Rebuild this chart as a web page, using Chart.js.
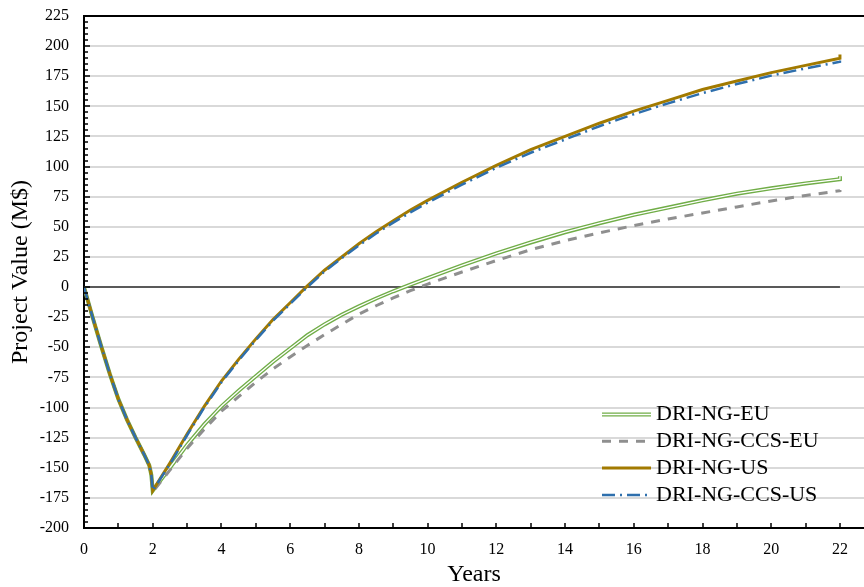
<!DOCTYPE html>
<html>
<head>
<meta charset="utf-8">
<script src="https://cdn.jsdelivr.net/npm/chart.js@4/dist/chart.umd.min.js"></script>
<style>
  body { margin: 0; background: #fff; }
</style>
</head>
<body>
<canvas id="npv-chart" width="864" height="587"></canvas>
<script>
// project value over time, four plant cases
var years = [0, 0.25, 0.5, 0.75, 1, 1.25, 1.5, 1.75, 1.9, 1.96, 2,
  2.5, 3, 3.5, 4, 4.5, 5, 5.5, 6, 6.5, 7, 7.5, 8, 8.5, 9, 9.5, 10,
  11, 12, 13, 14, 15, 16, 17, 18, 19, 20, 21, 22, 22];

var ngEU = [0, -25, -49, -72, -93, -110, -125, -139, -148, -156, -169,
  -150, -131, -114, -99, -86, -74, -62, -51, -40, -31, -23, -16, -9.5, -3.5, 2, 7.5,
  18, 28, 37, 45.5, 53, 60, 66, 72, 77.5, 82, 86, 89.5, 92];

var ngCcsEU = [0, -25, -49, -72, -93, -110, -125, -139, -148, -156, -170,
  -152, -134, -118, -103, -91, -79, -68, -58, -48.5, -39.5, -31, -22.5, -15.5, -9, -3, 2.5,
  12.5, 22, 31, 38.5, 45, 51, 56.5, 61.5, 66.5, 71.5, 76, 80, 80.5];

var ngUS = [0, -25, -49, -72, -93, -110, -125, -139, -148, -156, -169,
  -146, -122, -99, -78, -60, -43, -27, -13, 1, 14, 25, 36, 46, 55, 64, 72,
  87, 101, 114, 125, 136, 146, 155, 164, 171, 178, 184, 190, 193];

var ngCcsUS = [0, -25, -49, -72, -93, -110, -125, -139, -148, -156, -169,
  -147, -123, -100, -79, -61, -44, -28, -14, 0, 13, 24, 34.5, 44.5, 53.5, 62, 70,
  85, 99, 111.5, 122.5, 133.5, 143.5, 152.5, 161, 168.5, 175.5, 181.5, 187, 188];

var zeroYears = [0, 22];
var zeroVals = [0, 0];

var xTickStep = 2;
var yTickStep = 25;

var serif = '"Liberation Serif", "Times New Roman", serif';

function pts(xs, vals) {
  return vals.map(function(v, i) { return { x: xs[i], y: v }; });
}

// small tick marks pointing into the plot
var insideTicks = {
  id: 'insideTicks',
  afterDraw: function(chart) {
    var ctx = chart.ctx, xs = chart.scales.x, ys = chart.scales.y, area = chart.chartArea;
    ctx.save();
    ctx.strokeStyle = '#000';
    ctx.lineWidth = 1.5;
    ctx.beginPath();
    for (var yr = 1; yr <= 22; yr++) {
      var px = Math.round(xs.getPixelForValue(yr));
      ctx.moveTo(px, area.bottom);
      ctx.lineTo(px, area.bottom - 5);
    }
    for (var v = -195; v < 225; v += 5) {
      var py = Math.round(ys.getPixelForValue(v));
      ctx.moveTo(area.left, py);
      ctx.lineTo(area.left + (v % 25 === 0 ? 6 : 4), py);
    }
    ctx.stroke();
    ctx.restore();
  }
};

// legend with line samples, the EU case drawn as a double line
var lineLegend = {
  id: 'lineLegend',
  afterDraw: function(chart) {
    var ctx = chart.ctx;
    var entries = [
      { text: 'DRI-NG-EU', ds: 4, inner: 3 },
      { text: 'DRI-NG-CCS-EU', ds: 2 },
      { text: 'DRI-NG-US', ds: 1 },
      { text: 'DRI-NG-CCS-US', ds: 0 }
    ];
    ctx.save();
    ctx.font = '22px ' + serif;
    ctx.textBaseline = 'middle';
    ctx.fillStyle = '#000';
    entries.forEach(function(e, i) {
      var y = 414.5 + i * 26.8;
      [e.ds, e.inner].forEach(function(k) {
        if (k === undefined) return;
        var d = chart.data.datasets[k];
        ctx.beginPath();
        ctx.strokeStyle = d.borderColor;
        ctx.lineWidth = d.borderWidth;
        ctx.setLineDash(d.borderDash || []);
        ctx.moveTo(602, y);
        ctx.lineTo(651, y);
        ctx.stroke();
      });
      ctx.setLineDash([]);
      ctx.fillText(e.text, 656, y);
    });
    ctx.restore();
  }
};

new Chart(document.getElementById('npv-chart'), {
  type: 'line',
  data: {
    datasets: [{
      label: 'DRI-NG-CCS-US',
      data: pts(years, ngCcsUS),
      borderColor: '#2E6FAD',
      borderWidth: 2.5,
      borderDash: [13, 5, 2, 5],
      order: 0
    }, {
      label: 'DRI-NG-US',
      data: pts(years, ngUS),
      borderColor: '#A27A00',
      borderWidth: 3,
      order: 1
    }, {
      label: 'DRI-NG-CCS-EU',
      data: pts(years, ngCcsEU),
      borderColor: '#8F8F8F',
      borderWidth: 3,
      borderDash: [9, 8],
      order: 2
    }, {
      label: 'DRI-NG-EU inner',
      data: pts(years, ngEU),
      borderColor: '#ffffff',
      borderWidth: 1.3,
      order: 3
    }, {
      label: 'DRI-NG-EU',
      data: pts(years, ngEU),
      borderColor: '#70AD47',
      borderWidth: 4,
      order: 4
    }, {
      label: 'zero',
      data: pts(zeroYears, zeroVals),
      borderColor: '#595959',
      borderWidth: 2,
      order: 5
    }]
  },
  options: {
    responsive: false,
    animation: false,
    events: [],
    elements: {
      point: { radius: 0 },
      line: { tension: 0, fill: false, borderCapStyle: 'butt' }
    },
    layout: { padding: { top: 16, right: 0, bottom: 0, left: 0 } },
    plugins: {
      legend: { display: false },
      tooltip: { enabled: false }
    },
    scales: {
      x: {
        type: 'linear',
        min: 0,
        max: 22.7,
        afterFit: function(s) { s.height = 59; },
        ticks: {
          stepSize: xTickStep,
          includeBounds: false,
          padding: 12,
          color: '#000',
          font: { family: serif, size: 16 }
        },
        grid: { display: false, drawTicks: false },
        border: { display: true, color: '#000', width: 2 },
        title: {
          display: true,
          text: 'Years',
          color: '#000',
          font: { family: serif, size: 24, lineHeight: 1 },
          padding: { top: 0, bottom: 0 }
        }
      },
      y: {
        type: 'linear',
        min: -200,
        max: 225,
        afterFit: function(s) {
          s.width = 84;
          s.paddingTop = 0;
          s.paddingBottom = 0;
        },
        ticks: {
          stepSize: yTickStep,
          padding: 15,
          color: '#000',
          font: { family: serif, size: 16 }
        },
        grid: {
          drawTicks: false,
          lineWidth: 2,
          color: function(c) { return c.tick && c.tick.value === 225 ? '#000' : '#d9d9d9'; }
        },
        border: { display: true, color: '#000', width: 2 },
        title: {
          display: true,
          text: 'Project Value (M$)',
          color: '#000',
          font: { family: serif, size: 24, lineHeight: 1 },
          padding: { top: 9, bottom: 0 }
        }
      }
    }
  },
  plugins: [insideTicks, lineLegend]
});
</script>
</body>
</html>
